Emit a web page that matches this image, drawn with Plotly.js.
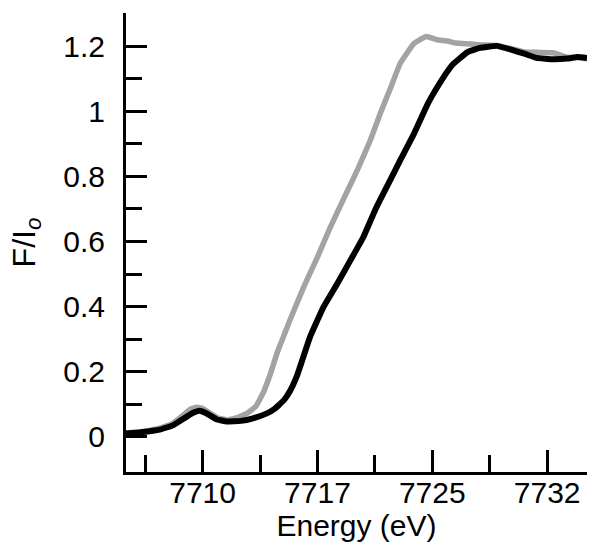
<!DOCTYPE html>
<html>
<head>
<meta charset="utf-8">
<script src="https://cdn.plot.ly/plotly-3.0.1.min.js"></script>
<style>html,body{margin:0;padding:0;background:#fff;}#chart{width:601px;height:553px;}</style>
</head>
<body>
<div id="chart"></div>
<script>
// Gray curve (reference sample)
var grayEnergy = [7705.0,7706.0,7707.0,7708.0,7708.7,7709.2,7709.6,7710.0,7710.5,7711.0,7711.6,7712.2,7712.9,7713.5,7714.0,7714.4,7714.9,7715.7,7716.6,7717.5,7718.3,7719.2,7720.1,7720.95,7721.6,7722.3,7722.9,7723.8,7724.6,7725.3,7726.0,7726.5,7727.5,7728.2,7729.2,7730.1,7731.0,7732.0,7732.9,7733.8,7734.5,7735.1];
var grayFlux = [0.012,0.016,0.024,0.040,0.065,0.085,0.091,0.088,0.072,0.058,0.052,0.058,0.072,0.095,0.140,0.190,0.262,0.358,0.460,0.552,0.640,0.730,0.819,0.911,0.993,1.075,1.147,1.208,1.230,1.220,1.216,1.210,1.207,1.204,1.202,1.193,1.182,1.181,1.180,1.166,1.165,1.161];
// Black curve (sample)
var blackEnergy = [7705.0,7706.0,7707.2,7708.1,7709.0,7709.5,7709.8,7710.3,7710.9,7711.6,7712.5,7713.3,7714.2,7714.7,7715.3,7715.7,7716.2,7717.0,7717.9,7718.8,7719.65,7720.5,7721.3,7721.8,7722.9,7723.8,7724.7,7725.4,7726.1,7726.4,7727.3,7728.1,7729.2,7730.1,7731.0,7731.8,7732.9,7733.8,7734.5,7735.1];
var blackFlux = [0.010,0.014,0.022,0.036,0.063,0.076,0.080,0.071,0.054,0.047,0.049,0.057,0.072,0.086,0.112,0.140,0.192,0.305,0.399,0.471,0.542,0.614,0.700,0.747,0.849,0.931,1.023,1.080,1.130,1.147,1.182,1.195,1.201,1.190,1.177,1.164,1.160,1.162,1.167,1.164];

var xTickVals = [7710, 7717.5, 7725, 7732.5];
var xTickText = ["7710", "7717", "7725", "7732"];
var xMinorVals = [7706.25, 7713.75, 7721.25, 7728.75];
var yTickVals = [0, 0.2, 0.4, 0.6, 0.8, 1.0, 1.2];
var yTickText = ["0", "0.2", "0.4", "0.6", "0.8", "1", "1.2"];
var yMinorVals = [0.1, 0.3, 0.5, 0.7, 0.9, 1.1, 1.3];

var font = "Liberation Sans, Arial, Helvetica, sans-serif";

var traces = [
  {x: grayEnergy, y: grayFlux, type: 'scatter', mode: 'lines',
   line: {color: '#a3a3a3', width: 5.5, shape: 'spline', smoothing: 0.3}, hoverinfo: 'skip'},
  {x: blackEnergy, y: blackFlux, type: 'scatter', mode: 'lines',
   line: {color: '#000000', width: 6, shape: 'spline', smoothing: 0.3}, hoverinfo: 'skip'}
];

var layout = {
  width: 601, height: 553,
  margin: {l: 126, r: 14, t: 13, b: 81, pad: 0},
  paper_bgcolor: '#ffffff', plot_bgcolor: '#ffffff',
  showlegend: false,
  font: {family: font, color: '#000', size: 30},
  xaxis: {
    range: [7705, 7735.1], autorange: false,
    showgrid: false, zeroline: false,
    showline: true, linecolor: '#000', linewidth: 3,
    ticks: 'inside', ticklen: 22, tickwidth: 3, tickcolor: '#000',
    tickmode: 'array', tickvals: xTickVals, ticktext: xTickText,
    minor: {tickmode: 'array', tickvals: xMinorVals, ticks: 'inside', ticklen: 17, tickwidth: 3, tickcolor: '#000', showgrid: false},
    tickfont: {family: font, size: 30, color: '#000'},
    ticklabelstandoff: -8,
    title: {text: 'Energy (eV)', font: {family: font, size: 30, color: '#000'}, standoff: 0},
    automargin: false
  },
  yaxis: {
    range: [-0.108, 1.302], autorange: false,
    showgrid: false, zeroline: false,
    showline: true, linecolor: '#000', linewidth: 3,
    ticks: 'inside', ticklen: 21, tickwidth: 3, tickcolor: '#000',
    tickmode: 'array', tickvals: yTickVals, ticktext: yTickText,
    minor: {tickmode: 'array', tickvals: yMinorVals, ticks: 'inside', ticklen: 16, tickwidth: 3, tickcolor: '#000', showgrid: false},
    tickfont: {family: font, size: 30, color: '#000'},
    ticklabelstandoff: 12,
    title: {text: 'F/I<sub><i>o</i></sub>', font: {family: font, size: 32, color: '#000'}, standoff: 19},
    automargin: false
  }
};

Plotly.newPlot('chart', traces, layout, {staticPlot: true, displayModeBar: false});
</script>
</body>
</html>
